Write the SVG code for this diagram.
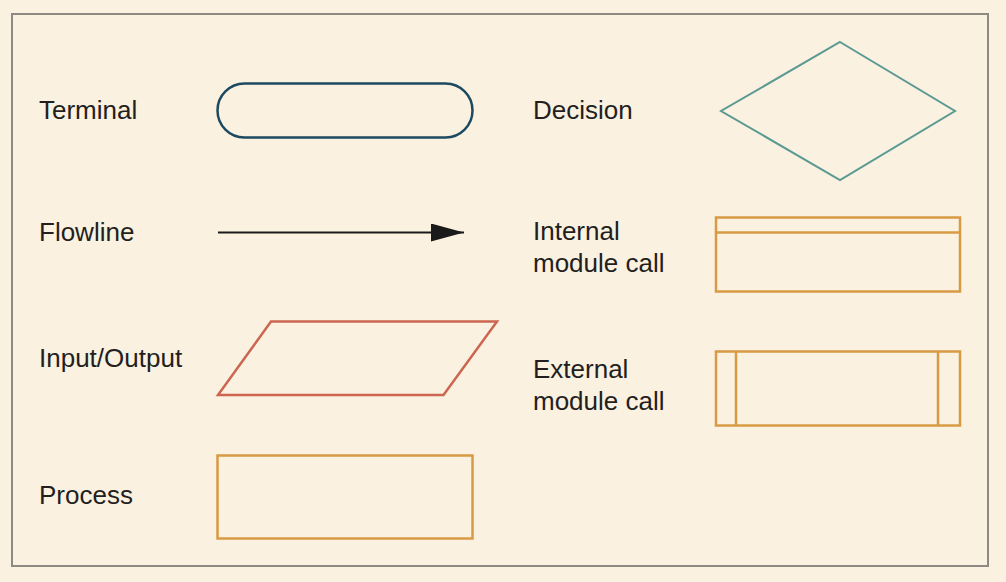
<svg xmlns="http://www.w3.org/2000/svg" width="1006" height="582" viewBox="0 0 1006 582">
<defs>
<style>
.lbl{font-family:"Liberation Sans",Arial,sans-serif;font-size:26px;fill:#231f20}
.orange{fill:none;stroke:#d89a44;stroke-width:2.5}
</style>
<marker id="ah" markerWidth="33" markerHeight="18" refX="33" refY="9" orient="auto" markerUnits="userSpaceOnUse">
<path d="M0,0 L33,9 L0,18 Z" fill="#1a1a1a"/>
</marker>
</defs>
<rect x="0" y="0" width="1006" height="582" fill="#faf1e0"/>
<rect x="12" y="14" width="976" height="552" fill="none" stroke="#8e8983" stroke-width="2"/>
<g id="terminal">
<text class="lbl" x="39" y="119">Terminal</text>
<rect x="217.5" y="83.5" width="255" height="54" rx="27" fill="none" stroke="#1d4a60" stroke-width="2.5"/>
</g>
<g id="flowline">
<text class="lbl" x="39" y="241">Flowline</text>
</g>
<g id="connectors">
<line x1="218" y1="232.5" x2="464" y2="232.5" stroke="#1a1a1a" stroke-width="2" marker-end="url(#ah)"/>
</g>
<g id="io">
<text class="lbl" x="39" y="367">Input/Output</text>
<polygon points="271,321.5 497,321.5 443.5,395 218,395" fill="none" stroke="#cc6650" stroke-width="2.5"/>
</g>
<g id="process">
<text class="lbl" x="39" y="504">Process</text>
<rect class="orange" x="217.5" y="455.5" width="255" height="83"/>
</g>
<g id="decision">
<text class="lbl" x="533" y="119">Decision</text>
<polygon points="840,42 955,111 840,180 721,111" fill="none" stroke="#5b9a92" stroke-width="2"/>
</g>
<g id="internal">
<text class="lbl" x="533" y="240">Internal</text>
<text class="lbl" x="533" y="272">module call</text>
<rect class="orange" x="716" y="217.5" width="244" height="74"/>
<line class="orange" x1="716" y1="232.5" x2="960" y2="232.5"/>
</g>
<g id="external">
<text class="lbl" x="533" y="378">External</text>
<text class="lbl" x="533" y="410">module call</text>
<rect class="orange" x="716" y="351.5" width="244" height="74"/>
<line class="orange" x1="736" y1="351.5" x2="736" y2="425.5"/>
<line class="orange" x1="938" y1="351.5" x2="938" y2="425.5"/>
</g>
</svg>
